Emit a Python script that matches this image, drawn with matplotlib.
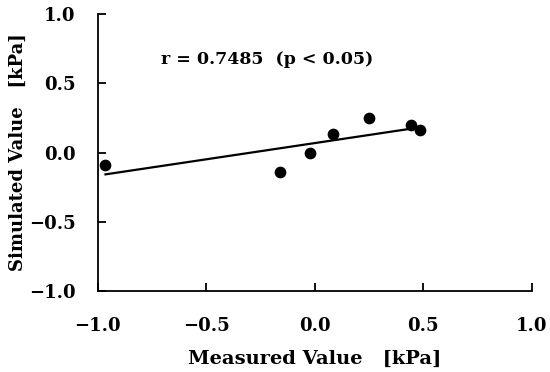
import numpy as np
import matplotlib.pyplot as plt

# measured vs simulated values [kPa]
measured = [-0.965, -0.16, -0.022, 0.083, 0.25, 0.444, 0.485]
simulated = [-0.09, -0.143, -0.006, 0.136, 0.247, 0.199, 0.162]
ticks = [-1.0, -0.5, 0.0, 0.5, 1.0]
tick_labels = ["\u22121.0", "\u22120.5", "0.0", "0.5", "1.0"]
annotation = "r = 0.7485  (p < 0.05)"

plt.rcParams["font.family"] = ["DejaVu Serif"]
plt.rcParams["font.weight"] = "bold"
FS = 13

fig = plt.figure(figsize=(5.5, 3.72), dpi=100)
ax = fig.add_axes([0.178, 0.218, 0.789, 0.744])

ax.scatter(measured, simulated, s=55, color="black", zorder=3)

slope, intercept = np.polyfit(measured, simulated, 1)
xs = np.array([min(measured), max(measured)])
ax.plot(xs, slope * xs + intercept, color="black", lw=1.6, zorder=2)

ax.text(-0.22, 0.67, annotation, ha="center", va="center",
        fontsize=FS - 0.5, fontweight="bold")

ax.set_xlim(-1.0, 1.0)
ax.set_ylim(-1.0, 1.0)
ax.set_xticks(ticks)
ax.set_yticks(ticks)
ax.set_xticklabels(tick_labels, fontsize=FS, fontweight="bold")
ax.set_yticklabels(tick_labels, fontsize=FS, fontweight="bold")
ax.tick_params(direction="in", length=6, width=1.3)
ax.tick_params(axis="y", pad=16)
ax.tick_params(axis="x", pad=19)

for side in ["top", "right"]:
    ax.spines[side].set_visible(False)
for side in ["left", "bottom"]:
    ax.spines[side].set_linewidth(1.3)

ax.set_xlabel("Measured Value   [kPa]", fontsize=FS + 1, fontweight="bold")
ax.set_ylabel("Simulated Value   [kPa]", fontsize=FS, fontweight="bold")
ax.xaxis.set_label_coords(0.5, -0.213)
ax.yaxis.set_label_coords(-0.164, 0.5)

fig.savefig("out.png", dpi=100)
